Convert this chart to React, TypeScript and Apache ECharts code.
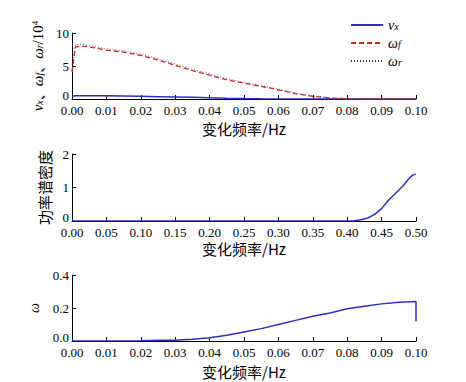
import React, { useEffect, useRef } from "react";
import * as echarts from "echarts";

// Top panel
const freqTop = [0, 0.001, 0.003, 0.005, 0.01, 0.015, 0.02, 0.025, 0.03, 0.035, 0.04, 0.045, 0.05, 0.055, 0.06, 0.065, 0.07, 0.075, 0.08, 0.085, 0.09, 0.095, 0.1];
const vx = [0.4, 0.5, 0.5, 0.5, 0.5, 0.45, 0.4, 0.35, 0.3, 0.25, 0.2, 0.12, 0.06, 0.02, 0, 0, 0, 0, 0, 0, 0, 0, 0];
const omegaF = [4.1, 7.9, 8.0, 7.9, 7.4, 7.1, 6.6, 5.9, 5.1, 4.3, 3.6, 2.9, 2.4, 1.9, 1.4, 0.8, 0.4, 0.15, 0.02, 0, 0, 0, 0];
const omegaR = [4.4, 8.2, 8.3, 8.1, 7.6, 7.3, 6.8, 6.1, 5.3, 4.5, 3.8, 3.1, 2.5, 2.0, 1.5, 0.9, 0.45, 0.18, 0.03, 0, 0, 0, 0];

// Middle panel
const freqMid = [0, 0.05, 0.1, 0.15, 0.2, 0.25, 0.3, 0.35, 0.4, 0.41, 0.42, 0.43, 0.44, 0.45, 0.46, 0.47, 0.48, 0.49, 0.495, 0.5];
const psd = [0, 0, 0, 0, 0, 0, 0, 0, 0, 0.005, 0.04, 0.09, 0.2, 0.37, 0.62, 0.82, 1.02, 1.27, 1.37, 1.4];

// Bottom panel
const freqBot = [0, 0.01, 0.02, 0.025, 0.03, 0.035, 0.04, 0.045, 0.05, 0.055, 0.06, 0.065, 0.07, 0.075, 0.08, 0.085, 0.09, 0.095, 0.1, 0.1];
const omega = [0, 0, 0.002, 0.004, 0.005, 0.01, 0.02, 0.035, 0.055, 0.075, 0.1, 0.125, 0.15, 0.17, 0.195, 0.21, 0.225, 0.235, 0.24, 0.12];

const xTicksTop = { min: 0, max: 0.1, interval: 0.01 };
const xTicksMid = { min: 0, max: 0.5, interval: 0.05 };
const yTicksTop = { min: 0, max: 10, interval: 5 };
const yTicksMid = { min: 0, max: 2, interval: 1 };
const yTicksBot = { min: 0, max: 0.4, interval: 0.2 };

const SERIF = "Liberation Serif";
const CJK = "Noto Sans CJK SC";
const BLUE = "#2c2cc4";
const RED = "#d42424";

const pairs = (xs: number[], ys: number[]) => xs.map((x, i) => [x, ys[i]]);

export default function App() {
  const ref = useRef<HTMLDivElement>(null);
  useEffect(() => {
    if (!ref.current) return;
    const chart = echarts.init(ref.current, undefined, { renderer: "svg" });
    const axisCommon = {
      axisLine: { show: true, lineStyle: { color: "#000", width: 1 } },
      axisTick: { show: true, inside: true, length: 4, lineStyle: { color: "#000" } },
      axisLabel: { color: "#000", fontFamily: SERIF, fontSize: 13, lineHeight: 10 },
      splitLine: { show: false },
    };
    const yLabel = (digits: number) => ({
      ...axisCommon.axisLabel,
      margin: 3,
      formatter: (v: number) => (v === 0 ? `{z|${v.toFixed(digits)}}` : v.toFixed(digits)),
      rich: { z: { fontFamily: SERIF, fontSize: 13, color: "#000", lineHeight: 10, padding: [0, 0, 8, 0] } },
    });
    const xAxisBase = (gridIndex: number, t: any, digits: number, gap: number) => ({
      type: "value",
      gridIndex,
      ...t,
      ...axisCommon,
      axisLabel: { ...axisCommon.axisLabel, margin: 6, formatter: (v: number) => v.toFixed(digits) },
      name: "变化频率/Hz",
      nameLocation: "middle",
      nameGap: gap,
      nameTextStyle: { color: "#000", fontFamily: CJK, fontSize: 15, lineHeight: 15 },
    });
    const richName = {
      color: "#000",
      fontFamily: SERIF,
      fontSize: 15,
      lineHeight: 14,
      rich: {
        i: { fontStyle: "italic", fontFamily: SERIF, fontSize: 15, color: "#000", lineHeight: 14 },
        s: { fontStyle: "italic", fontFamily: SERIF, fontSize: 10, color: "#000", verticalAlign: "bottom", lineHeight: 9 },
        n: { fontFamily: SERIF, fontSize: 15, color: "#000", lineHeight: 14 },
        c: { fontFamily: CJK, fontSize: 14, color: "#000", lineHeight: 14 },
        p: { fontFamily: SERIF, fontSize: 9, color: "#000", verticalAlign: "top", lineHeight: 8 },
      },
    };
    chart.setOption({
      animation: false,
      backgroundColor: "#fff",
      grid: [
        { left: 72, right: 50, top: 33, height: 66 },
        { left: 72, right: 50, top: 154, height: 67 },
        { left: 72, right: 50, top: 275, height: 66 },
      ],
      legend: {
        left: 345,
        top: 13,
        orient: "vertical",
        itemWidth: 32,
        itemHeight: 10,
        itemGap: 4,
        itemStyle: { opacity: 0 },
        textStyle: {
          color: "#000",
          fontFamily: SERIF,
          fontSize: 14,
          lineHeight: 12,
          rich: {
            i: { fontStyle: "italic", fontFamily: SERIF, fontSize: 14, color: "#000", lineHeight: 12 },
            s: { fontStyle: "italic", fontFamily: SERIF, fontSize: 10, color: "#000", verticalAlign: "bottom", lineHeight: 6 },
          },
        },
        data: ["vx", "ωf", "ωr"],
        formatter: (n: string) => `{i|${n[0]}}{s|${n.slice(1)}}`,
      },
      xAxis: [xAxisBase(0, xTicksTop, 2, 22), xAxisBase(1, xTicksMid, 2, 20), xAxisBase(2, xTicksTop, 2, 23)],
      yAxis: [
        {
          type: "value",
          gridIndex: 0,
          ...yTicksTop,
          ...axisCommon,
          axisLabel: yLabel(0),
          name: "{i|v}{s|x}{c|、}{i|ω}{s|f}{c|、}{i|ω}{s|r}{n|/10}{p|4}",
          nameLocation: "middle",
          nameGap: 15,
          nameTextStyle: richName,
        },
        {
          type: "value",
          gridIndex: 1,
          ...yTicksMid,
          ...axisCommon,
          axisLabel: yLabel(0),
          name: "功率谱密度",
          nameLocation: "middle",
          nameGap: 18,
          nameTextStyle: { color: "#000", fontFamily: CJK, fontSize: 15, lineHeight: 15 },
        },
        {
          type: "value",
          gridIndex: 2,
          ...yTicksBot,
          ...axisCommon,
          axisLabel: yLabel(1),
          name: "ω",
          nameLocation: "middle",
          nameGap: 23,
          nameTextStyle: { color: "#000", fontFamily: SERIF, fontSize: 14, fontStyle: "italic", lineHeight: 13 },
        },
      ],
      series: [
        {
          name: "vx", type: "line", xAxisIndex: 0, yAxisIndex: 0, symbol: "none",
          data: pairs(freqTop, vx), lineStyle: { color: BLUE, width: 1.5 }, itemStyle: { color: BLUE },
        },
        {
          name: "ωf", type: "line", xAxisIndex: 0, yAxisIndex: 0, symbol: "none", z: 3,
          data: pairs(freqTop, omegaF), lineStyle: { color: RED, width: 1.3, type: [5, 3] }, itemStyle: { color: RED },
        },
        {
          name: "ωr", type: "line", xAxisIndex: 0, yAxisIndex: 0, symbol: "none", z: 2,
          data: pairs(freqTop, omegaR), lineStyle: { color: "#333", width: 0.8, type: [1, 2] }, itemStyle: { color: "#333" },
        },
        {
          name: "psd", type: "line", xAxisIndex: 1, yAxisIndex: 1, symbol: "none",
          data: pairs(freqMid, psd), lineStyle: { color: BLUE, width: 1.5 },
        },
        {
          name: "omega", type: "line", xAxisIndex: 2, yAxisIndex: 2, symbol: "none",
          data: pairs(freqBot, omega), lineStyle: { color: BLUE, width: 1.5 },
        },
      ],
    });
    return () => chart.dispose();
  }, []);
  return <div ref={ref} style={{ width: 466, height: 382, position: "absolute", left: 0, top: 0 }} />;
}
